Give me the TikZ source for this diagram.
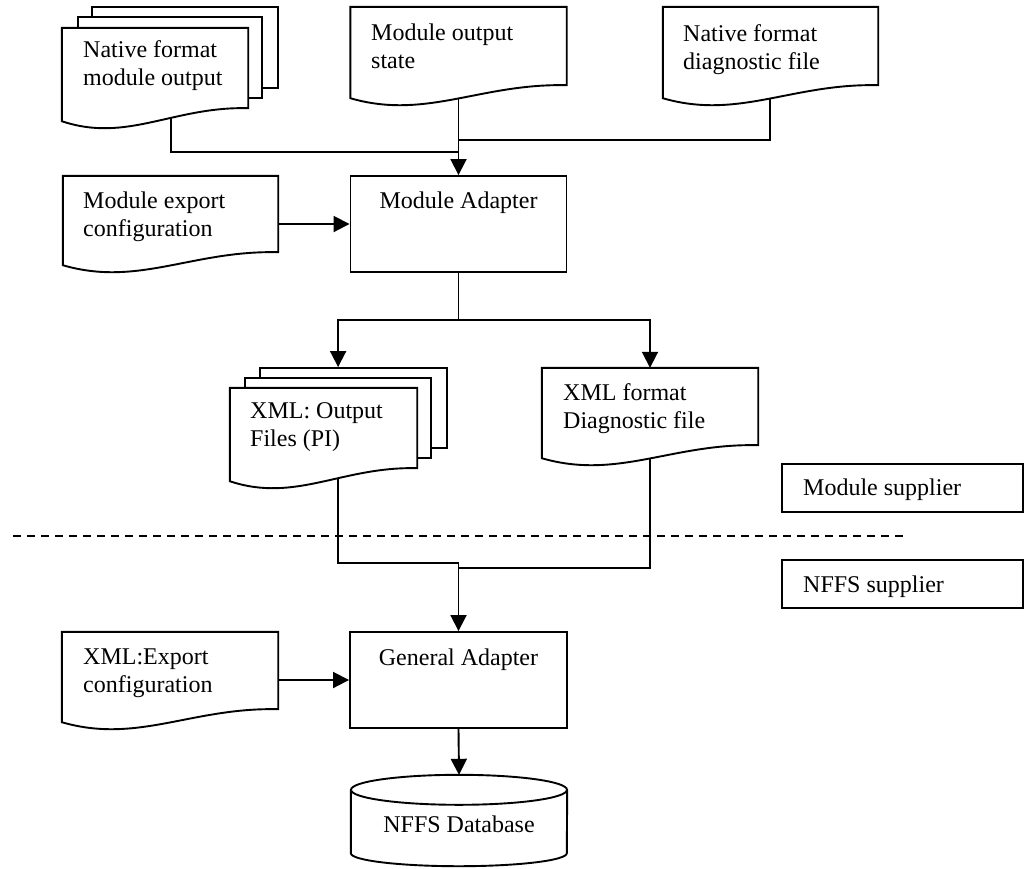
\documentclass[tikz,border=0pt]{standalone}
\usepackage{fontspec}
\setmainfont{Liberation Serif}
\usetikzlibrary{calc,arrows.meta}
\pgfdeclarelayer{background}
\pgfsetlayers{background,main}

% two stacked text lines, the node baseline being that of the first line
\newcommand\twoline[2]{\vtop{\hbox{#1}\hbox{#2}}}

% document symbol: straight top and sides, wavy bottom edge
\newcommand\docoutline[1]{%
  \draw[outline, fill=white] (#1.south east) -- (#1.north east) -- (#1.north west)
    -- ($(#1.south west)+(0,13)$)
    .. controls ($(#1.south west)!0.35!(#1.south east)+(0,35)$)
       and ($(#1.south west)!0.6!(#1.south east)+(0,-2)$) .. (#1.south east) -- cycle;}

\tikzset{
  outline/.style={draw=black, line width=1.9pt, line join=miter},
  body/.style 2 args={rectangle, draw=none, inner sep=0pt,
    minimum width=#1pt, minimum height=#2pt},
  page/.style 2 args={body={#1}{#2}, outline, fill=white},
  procbox/.style 2 args={body={#1}{#2}, outline, fill=white},
  lbl/.style={inner sep=0pt, font=\fontsize{24}{28.5}\selectfont, anchor=base west},
  clbl/.style={lbl, anchor=base},
  conn/.style={draw=black, line width=1.9pt},
  arr/.style={conn, -{Triangle[length=16pt,width=16pt]}},
  divider/.style={draw=black, line width=1.6pt, dash pattern=on 8pt off 6pt}
}

\begin{document}
\begin{tikzpicture}[x=1pt, y=-1pt]
\useasboundingbox (0,0) rectangle (1030,868);

% ---------- module supplier side ----------
% stacked native output files
\node[page={186}{81}] (nfmob2) at (185,47.5) {};
\node[page={184}{81}] (nfmob1) at (170,57.5) {};
\node[body={186}{80}] (nfmo) at (155,68) {};
\docoutline{nfmo}
\node[lbl] (nfmot) at (83,57) {\twoline{Native format}{module output}};

\node[body={216}{78}] (mos) at (458.5,46) {};
\docoutline{mos}
\node[lbl] (most) at (371,40) {\twoline{Module output}{state}};

\node[body={215}{78}] (nfdf) at (770.5,46) {};
\docoutline{nfdf}
\node[lbl] (nfdft) at (683,41) {\twoline{Native format}{diagnostic file}};

\node[body={215}{76}] (mec) at (170.5,214) {};
\docoutline{mec}
\node[lbl] (mect) at (83,208) {\twoline{Module export}{configuration}};

\node[procbox={216}{96}] (madapt) at (458.5,224) {};
\node[clbl] (madaptt) at (458.5,208) {Module Adapter};

% stacked XML output files
\node[page={187}{80}] (xofb2) at (353.5,408) {};
\node[page={186}{80}] (xofb1) at (338,418) {};
\node[body={187}{80}] (xof) at (323.5,428) {};
\docoutline{xof}
\node[lbl] (xoft) at (250,418) {\twoline{XML: Output}{Files (PI)}};

\node[body={216}{77}] (xdf) at (650,406.5) {};
\docoutline{xdf}
\node[lbl] (xdft) at (563,400) {\twoline{XML format}{Diagnostic file}};

% ---------- responsibility legend ----------
\node[procbox={241}{48}] (msup) at (902.5,488) {};
\node[lbl] (msupt) at (803,495) {Module supplier};
\node[procbox={241}{48}] (nsup) at (902.5,584) {};
\node[lbl] (nsupt) at (803,592) {NFFS supplier};

% ---------- NFFS side ----------
\node[body={216}{77}] (xec) at (170,670.5) {};
\docoutline{xec}
\node[lbl] (xect) at (83,664) {\twoline{XML:Export}{configuration}};

\node[procbox={217}{96}] (gadapt) at (458.5,680) {};
\node[clbl] (gadaptt) at (458.5,665) {General Adapter};

% database cylinder
\node[body={216}{93}] (db) at (459,821.5) {};
\draw[outline, fill=white] ($(db.north west)+(0,15)$) -- ($(db.south west)+(0,-15)$)
  arc[start angle=180, end angle=0, x radius=108, y radius=13]
  -- ($(db.north east)+(0,15)$);
\draw[outline, fill=white] ($(db.north)+(0,15)$) ellipse [x radius=108, y radius=15];
\node[clbl] (dbt) at (459,832) {NFFS Database};

% ---------- connectors ----------
\coordinate (jl) at (458.5,152);
\coordinate (jr) at (458.5,140);
\coordinate (split) at (458.5,320);
\coordinate (jb1) at (458.5,563);
\coordinate (jb2) at (458.5,568);
\coordinate (nfmox) at ($(nfmo.south west)!0.586!(nfmo.south east)$);
\coordinate (nfdfx) at ($(nfdf.south west)!0.498!(nfdf.south east)$);
\coordinate (xofx) at ($(xof.south west)!0.578!(xof.south east)$);
\coordinate (dl) at (13,536);
\coordinate (dr) at (903,536);

\begin{pgfonlayer}{background}
  \draw[conn] (nfmox) |- (jl);
  \draw[conn] (nfdfx) |- (jr);
  \draw[arr] (mos.south -| madapt.north) -- (madapt.north);
  \draw[arr] (madapt.west -| mec.east) -- (madapt.west);
  \draw[conn] (madapt.south) -- (split);
  \draw[arr] (split) -| (xofb2.north -| xofx);
  \draw[arr] (split) -| (xdf.north);
  \draw[conn] (xofx) |- (jb1);
  \draw[conn] (xdf.south) |- (jb2);
  \draw[arr] (jb1) -- (gadapt.north);
  \draw[arr] (gadapt.west -| xec.east) -- (gadapt.west);
  \draw[arr] (gadapt.south) -- (db.north);
  \draw[divider] (dl) -- (dr);
\end{pgfonlayer}
\end{tikzpicture}
\end{document}
